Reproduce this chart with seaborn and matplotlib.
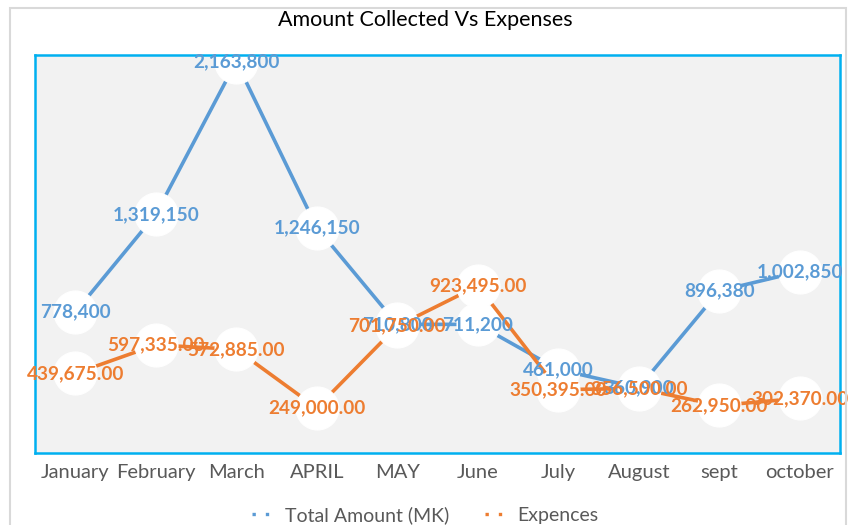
import matplotlib.pyplot as plt
import seaborn as sns
import pandas as pd
from matplotlib.lines import Line2D
from matplotlib.patches import Rectangle

months = ['January', 'February', 'March', 'APRIL', 'MAY', 'June',
          'July', 'August', 'sept', 'october']
total_amount = [778400, 1319150, 2163800, 1246150, 710800, 711200,
                461000, 360900, 896380, 1002850]
expences = [439675.00, 597335.00, 572885.00, 249000.00, 701750.00, 923495.00,
            350395.00, 356500.00, 262950.00, 302370.00]

blue = '#5B9BD5'
orange = '#ED7D31'

df = pd.concat([
    pd.DataFrame({'month': months, 'amount': total_amount, 'series': 'Total Amount (MK)'}),
    pd.DataFrame({'month': months, 'amount': expences, 'series': 'Expences'}),
])

sns.set_style('white')
plt.rcParams['font.family'] = ['Lato', 'DejaVu Sans']

fig = plt.figure(figsize=(8.51, 5.25), dpi=100)
# outer chart frame
fig.patches.append(Rectangle((10 / 851, -0.05), 836 / 851, 1.05 - 8 / 525,
                             transform=fig.transFigure, fill=False,
                             edgecolor='#D9D9D9', linewidth=1.5))
ax = fig.add_axes([35 / 851, 72 / 525, 805 / 851, 398 / 525])
ax.set_facecolor('#F2F2F2')

sns.lineplot(data=df, x='month', y='amount', hue='series',
             palette={'Total Amount (MK)': blue, 'Expences': orange},
             marker='o', markersize=31, markerfacecolor='white',
             markeredgecolor='white', linewidth=2.6, sort=False,
             legend=False, ax=ax)

for i, v in enumerate(total_amount):
    ax.text(i, v, f'{v:,.0f}', color=blue, fontsize=13.7, fontweight='bold',
            ha='center', va='center', zorder=5)
for i, v in enumerate(expences):
    ax.text(i, v, f'{v:,.2f}', color=orange, fontsize=13.7, fontweight='bold',
            ha='center', va='center', zorder=5)

ax.set_xlim(-0.5, 9.5)
ax.set_ylim(0, 2200000)
ax.set_yticks([])
ax.set_xlabel('')
ax.set_ylabel('')
ax.tick_params(axis='x', length=0, labelsize=14.5, labelcolor='#595959', pad=8)
for s in ax.spines.values():
    s.set_color('#00B0F0')
    s.set_linewidth(1.8)

fig.text(0.5, 1 - 20 / 525, 'Amount Collected Vs Expenses', ha='center',
         va='center', fontsize=15.5, color='black')

handles = [Line2D([], [], color=blue, linestyle=(0, (1, 3)), linewidth=2.4),
           Line2D([], [], color=orange, linestyle=(0, (1, 3)), linewidth=2.4)]
fig.legend(handles, ['Total Amount (MK)', 'Expences'], loc='center',
           bbox_to_anchor=(0.5, 1 - 515 / 525), ncol=2, frameon=False,
           fontsize=14, labelcolor='#595959', handlelength=1.2,
           handletextpad=0.5, columnspacing=1.8)

fig.savefig('out.png', dpi=100)
